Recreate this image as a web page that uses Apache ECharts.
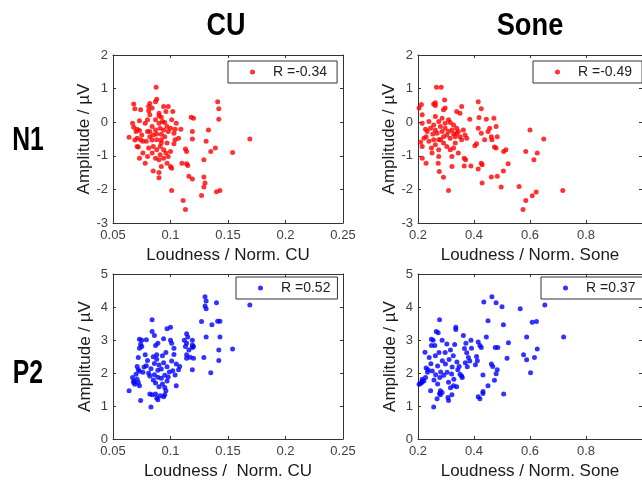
<!DOCTYPE html>
<html><head><meta charset="utf-8">
<script src="https://cdn.jsdelivr.net/npm/echarts@6/dist/echarts.min.js"></script>
<style>html,body{margin:0;padding:0;background:#fff}#c{width:642px;height:481px}</style>
</head><body><div id="c"></div>
<script>
// ---------- data ----------
const colTitles = ['CU', 'Sone'];
const rowTitles = ['N1', 'P2'];
const xNames = ['Loudness / Norm. CU', 'Loudness / Norm. Sone', 'Loudness /  Norm. CU', 'Loudness / Norm. Sone'];
const yName = 'Amplitude / µV';
const rLabels = ['R =-0.34', 'R =-0.49', 'R =0.52', 'R =0.37'];
const cuXTicks = [0.05, 0.1, 0.15, 0.2, 0.25];
const soneXTicks = [0.2, 0.4, 0.6, 0.8, 1];
const n1YTicks = [-3, -2, -1, 0, 1, 2];
const p2YTicks = [0, 1, 2, 3, 4, 5];

const n1CuX = [0.0875,0.088,0.087,0.068,0.069,0.074,0.082,0.081,0.084,0.094,
0.098,0.102,0.096,0.09,0.082,0.092,0.141,0.142,0.142,0.118,
0.12,0.067,0.073,0.064,0.071,0.07,0.073,0.071,0.074,0.071,
0.073,0.078,0.076,0.08,0.082,0.084,0.085,0.087,0.088,0.09,
0.091,0.092,0.093,0.094,0.095,0.097,0.098,0.1,0.101,0.103,
0.104,0.107,0.109,0.085,0.088,0.091,0.092,0.094,0.096,0.098,
0.1,0.087,0.09,0.084,0.081,0.079,0.1,0.101,0.085,0.09,
0.09,0.101,0.119,0.119,0.133,0.131,0.139,0.135,0.154,0.169,
0.113,0.114,0.114,0.115,0.11,0.129,0.116,0.129,0.13,0.129,
0.127,0.14,0.143,0.111,0.113,0.078,0.08,0.087,0.075,0.091,
0.094,0.097,0.076,0.068,0.072,0.105,0.103,0.088,0.082,0.095,
0.09,0.081,0.104,0.092,0.097,0.084,0.069,0.08,0.092,0.119];
const n1CuY = [1.04,0.68,0.61,0.54,0.40,0.37,0.56,0.47,0.42,0.47,
0.47,0.32,0.32,0.27,0.22,0.15,0.61,0.40,0.09,0.15,
0.12,-0.03,0.04,-0.45,-0.21,-0.28,-0.25,-0.48,-0.52,-0.72,
-1.07,-1.22,-0.92,-0.28,-0.43,-0.13,-0.38,-0.23,-0.52,-0.03,
-0.18,-0.36,0.02,-0.23,-0.43,-0.13,-0.28,-0.18,0.07,-0.33,
-0.52,-0.48,-0.21,-0.72,-0.82,-0.72,-0.62,-0.82,-0.92,-1.02,
-0.87,-1.07,-1.12,-0.92,-0.77,-0.57,-1.32,-1.37,-1.45,-1.5,
-1.65,-2.03,-0.28,-0.5,-0.23,-0.57,-0.77,-0.87,-0.9,-0.5,
-0.8,-0.87,-1.24,-1.29,-1.22,-1.12,-1.61,-1.63,-1.81,-1.93,
-2.18,-2.07,-2.03,-2.33,-2.6,-0.03,0.07,0.07,-0.38,-0.97,
-1.07,-1.22,-0.57,-0.15,-0.74,-0.03,-0.64,-0.35,-0.28,-0.01,
0.19,0.34,-0.21,-0.52,-0.62,-0.53,-0.53,-1.02,-1.32,-1.69];

const n1SoneX = [0.266,0.283,0.262,0.256,0.262,0.204,0.212,0.215,0.295,0.297,
0.291,0.356,0.338,0.350,0.415,0.426,0.385,0.444,0.471,0.418,
0.215,0.227,0.233,0.221,0.215,0.209,0.215,0.229,0.250,0.248,
0.256,0.274,0.274,0.274,0.272,0.276,0.291,0.309,0.321,0.321,
0.327,0.333,0.344,0.365,0.370,0.365,0.389,0.415,0.426,0.429,
0.429,0.462,0.483,0.497,0.505,0.514,0.506,0.522,0.473,0.479,
0.409,0.403,0.561,0.585,0.600,0.626,0.614,0.649,0.585,0.575,
0.608,0.622,0.717,0.415,0.426,0.438,0.450,0.456,0.462,0.479,
0.483,0.464,0.239,0.245,0.256,0.262,0.268,0.280,0.286,0.291,
0.297,0.303,0.309,0.315,0.321,0.327,0.333,0.338,0.344,0.350,
0.356,0.362,0.368,0.374,0.262,0.274,0.286,0.297,0.309,0.315,
0.327,0.338,0.280,0.291,0.303,0.315,0.262,0.253,0.229,0.239];
const n1SoneY = [1.04,1.04,0.58,0.54,0.50,0.42,0.53,0.22,0.66,0.42,
0.37,0.47,0.32,0.27,0.61,0.40,0.09,0.09,0.12,0.14,
-0.03,-0.21,-0.28,-0.48,-0.72,-0.60,-1.07,-1.22,-0.92,-0.77,
-0.52,-0.52,-0.82,-1.02,-1.22,-1.47,-1.64,-2.03,-1.32,-1.02,
-0.77,-0.62,-0.92,-1.07,-1.12,-1.30,-1.30,-1.39,-1.22,-1.27,
-1.81,-1.63,-1.61,-1.93,-1.45,-0.82,-0.87,-1.24,-0.74,-0.77,
-0.64,-0.70,-1.91,-0.87,-0.23,-0.92,-1.12,-0.50,-2.33,-2.60,
-2.19,-2.08,-2.03,-0.18,-0.33,-0.52,-0.28,-0.18,-0.43,-0.13,
-0.43,-0.52,0.02,-0.18,-0.08,-0.23,-0.33,-0.13,-0.28,-0.43,
-0.18,-0.38,-0.28,-0.48,-0.23,-0.35,-0.43,-0.33,-0.28,-0.43,
-0.52,-0.23,-0.38,-0.48,0.17,0.02,0.12,-0.03,0.07,-0.01,
-0.08,-0.18,-0.52,-0.62,-0.72,-0.82,-0.67,-0.35,-0.43,-0.57];

const p2CuX = [0.084,0.084,0.086,0.097,0.100,0.073,0.075,0.074,0.073,0.075,
0.079,0.094,0.089,0.087,0.100,0.101,0.103,0.114,0.115,0.112,
0.114,0.113,0.116,0.114,0.114,0.117,0.119,0.119,0.119,0.120,
0.120,0.119,0.108,0.107,0.105,0.130,0.131,0.130,0.131,0.140,
0.127,0.136,0.141,0.143,0.143,0.131,0.142,0.154,0.129,0.142,
0.135,0.169,0.064,0.067,0.068,0.068,0.070,0.071,0.072,0.069,
0.073,0.071,0.072,0.073,0.072,0.074,0.083,0.082,0.084,0.087,
0.088,0.089,0.091,0.094,0.095,0.096,0.095,0.078,0.080,0.079,
0.083,0.081,0.085,0.088,0.086,0.090,0.089,0.092,0.082,0.085,
0.086,0.087,0.089,0.090,0.093,0.094,0.096,0.097,0.099,0.098,
0.101,0.103,0.105,0.102,0.104,0.092,0.093,0.095,0.097,0.077,
0.076,0.088];
const p2CuY = [3.61,3.26,3.14,3.34,3.39,3.02,2.99,2.87,2.75,2.80,
3.01,3.04,2.90,2.83,2.99,2.90,2.75,3.19,3.09,2.99,
2.90,2.80,2.70,2.55,2.45,2.48,2.99,2.85,2.77,2.80,
2.45,2.10,2.20,2.10,1.61,4.31,4.18,4.03,3.95,4.13,
3.56,3.46,3.57,3.57,3.09,3.09,2.70,2.73,2.47,2.38,
2.01,4.06,1.46,1.86,1.76,1.71,1.96,1.81,1.71,1.66,
1.61,2.20,2.10,2.05,2.47,1.17,0.97,1.36,1.34,1.36,
1.24,1.19,1.31,1.28,1.34,1.46,1.56,2.55,2.38,2.22,
2.13,1.99,2.49,2.42,2.29,2.24,2.08,2.12,1.91,1.79,
1.95,1.70,1.87,1.58,2.52,2.31,2.62,2.19,2.03,1.88,
2.36,2.56,2.27,2.07,1.94,1.84,1.67,1.93,1.76,2.18,
2.02,2.55];

const p2SoneX = [0.277,0.265,0.272,0.335,0.335,0.248,0.254,0.260,0.248,0.225,
0.229,0.236,0.204,0.209,0.215,0.221,0.227,0.215,0.213,0.245,
0.256,0.268,0.277,0.280,0.286,0.280,0.309,0.307,0.321,0.327,
0.338,0.415,0.421,0.432,0.432,0.506,0.464,0.435,0.479,0.500,
0.565,0.653,0.450,0.505,0.623,0.608,0.444,0.588,0.720,0.523,
0.476,0.485,0.626,0.577,0.588,0.518,0.616,0.602,0.462,0.467,
0.483,0.479,0.473,0.450,0.432,0.409,0.412,0.405,0.415,0.421,
0.426,0.389,0.391,0.362,0.371,0.366,0.374,0.380,0.369,0.376,
0.385,0.350,0.356,0.358,0.347,0.342,0.286,0.297,0.303,0.311,
0.316,0.322,0.326,0.331,0.339,0.262,0.270,0.275,0.281,0.287,
0.292,0.298,0.304,0.251,0.257,0.263,0.270,0.278,0.309,0.316,
0.320,0.328,0.240,0.246,0.234];
const p2SoneY = [3.61,3.26,3.22,3.39,3.32,3.02,2.99,2.83,2.83,2.63,
2.15,2.10,1.66,1.68,1.74,1.76,1.86,1.81,1.71,1.46,
0.97,1.22,1.38,1.34,1.41,1.46,1.17,1.26,1.34,1.61,
1.58,1.28,1.22,1.44,1.38,1.36,4.31,4.15,4.13,4.01,
3.95,4.06,3.58,3.46,3.56,3.54,3.09,3.09,3.09,2.92,
2.77,2.77,2.73,2.55,2.40,2.45,2.47,2.01,2.27,2.20,
2.10,1.98,1.78,1.61,1.94,2.50,2.37,2.25,2.94,2.83,
2.77,2.99,2.75,3.14,2.90,2.74,2.61,2.47,2.31,2.19,
2.36,1.96,1.91,1.86,2.20,2.10,2.99,2.62,2.88,2.41,
2.70,2.18,2.52,2.86,2.33,2.52,2.21,2.62,2.03,2.37,
1.93,2.27,2.02,2.06,1.79,1.95,1.67,1.86,1.72,1.55,
1.97,1.81,2.47,2.28,2.02];

// ---------- layout / style ----------
const FONT = '"Liberation Sans", Arial, Helvetica, sans-serif';
const AXC = '#333333';
const panels = [
  {x: n1CuX,   y: n1CuY,   xt: cuXTicks,   yt: n1YTicks, color: '#ff0000', showMax: true,  grid: {left:113, top:55,  width:230, height:168}, leg: {left:228, top:61,  padR:10}},
  {x: n1SoneX, y: n1SoneY, xt: soneXTicks, yt: n1YTicks, color: '#ff0000', showMax: false, grid: {left:418, top:55,  width:228, height:168}, leg: {left:533, top:61,  padR:10}},
  {x: p2CuX,   y: p2CuY,   xt: cuXTicks,   yt: p2YTicks, color: '#0000ff', showMax: true,  grid: {left:113, top:274, width:230, height:168}, leg: {left:236, top:277, padR:7}},
  {x: p2SoneX, y: p2SoneY, xt: soneXTicks, yt: p2YTicks, color: '#0000ff', showMax: false, grid: {left:418, top:274, width:228, height:168}, leg: {left:541, top:277, padR:10}}
];

function tickSpec(t) {
  return {min: t[0], max: t[t.length - 1], interval: +(t[1] - t[0]).toFixed(6)};
}

const grid = [], xAxis = [], yAxis = [], series = [], legend = [];
panels.forEach((p, i) => {
  grid.push(Object.assign({containLabel: false}, p.grid));
  const xs = tickSpec(p.xt), ys = tickSpec(p.yt);
  [false, true].forEach(second => {
    xAxis.push(Object.assign({
      type: 'value', gridIndex: i, position: second ? 'top' : 'bottom',
      axisLine: {show: true, onZero: false, lineStyle: {color: AXC, width: 1}},
      axisTick: {show: true, inside: true, length: 3, lineStyle: {color: AXC}},
      axisLabel: {show: !second, showMaxLabel: p.showMax, fontSize: 13, color: '#404040', margin: 6, fontFamily: FONT},
      splitLine: {show: false},
      name: second ? '' : xNames[i], nameLocation: 'middle', nameGap: 24,
      nameTextStyle: {fontSize: 17, color: '#1a1a1a', fontFamily: FONT}
    }, xs));
    yAxis.push(Object.assign({
      type: 'value', gridIndex: i, position: second ? 'right' : 'left',
      axisLine: {show: true, onZero: false, lineStyle: {color: AXC, width: 1}},
      axisTick: {show: true, inside: true, length: 3, lineStyle: {color: AXC}},
      axisLabel: {show: !second, fontSize: 13, color: '#404040', margin: 5, fontFamily: FONT},
      splitLine: {show: false},
      name: second ? '' : yName, nameLocation: 'middle', nameGap: 19, nameRotate: 90,
      nameTextStyle: {fontSize: 17, color: '#1a1a1a', fontFamily: FONT}
    }, ys));
  });
  series.push({
    type: 'scatter', name: rLabels[i],
    xAxisIndex: 2 * i, yAxisIndex: 2 * i,
    data: p.x.map((v, k) => [v, p.y[k]]),
    symbol: 'circle', symbolSize: 5,
    itemStyle: {color: p.color},
    z: 2
  });
  legend.push({
    data: [rLabels[i]], left: p.leg.left, top: p.leg.top,
    orient: 'horizontal', icon: 'circle', itemWidth: 5, itemHeight: 5,
    borderColor: AXC, borderWidth: 1, backgroundColor: '#ffffff',
    padding: [4, p.leg.padR, 4, 22],
    selectedMode: false,
    textStyle: {fontSize: 14, lineHeight: 14, color: '#222', fontFamily: FONT, padding: [0, 0, 0, 13]}
  });
});

function label(text, x, y, size, sx) {
  return {type: 'text', x: x, y: y, scaleX: sx, z: 10,
    style: {text: text, font: 'bold ' + size + 'px ' + FONT, fill: '#000',
      align: 'center', verticalAlign: 'middle', textAlign: 'center', textVerticalAlign: 'middle'}};
}

const chart = echarts.init(document.getElementById('c'), null, {renderer: 'canvas'});
chart.setOption({
  animation: false,
  backgroundColor: '#ffffff',
  grid, xAxis, yAxis, series, legend,
  graphic: [
    label(colTitles[0], 226, 26, 31, 0.87),
    label(colTitles[1], 530, 26, 31, 0.88),
    label(rowTitles[0], 28, 141, 33, 0.75),
    label(rowTitles[1], 28, 374, 33, 0.75)
  ]
});
</script></body></html>
